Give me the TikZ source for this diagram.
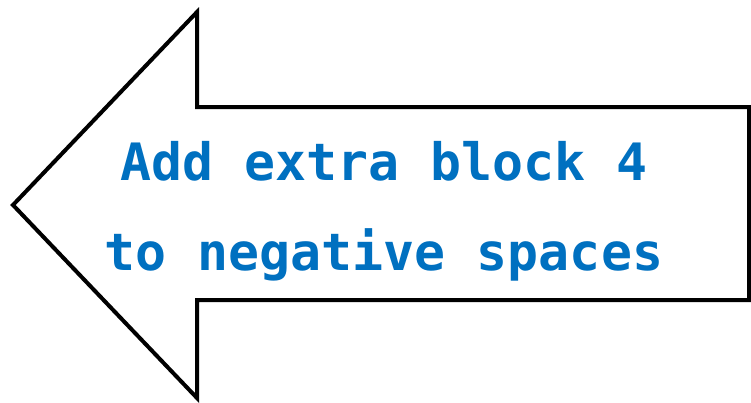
\documentclass[tikz,border=0pt]{standalone}
\usepackage{fontspec}
\setmonofont{DejaVu Sans Mono}
\usepackage{tikz}
\usetikzlibrary{positioning}
\usepackage{xcolor}
\definecolor{LabelBlue}{RGB}{0,112,192}

\begin{document}
\begin{tikzpicture}[x=1pt,y=-1pt]
\useasboundingbox (0,0) rectangle (751,402);
\draw[line width=4pt, line join=miter, fill=white] (13,205) -- (197,12) -- (197,107) -- (749,107) -- (749,300) -- (197,300) -- (197,398) -- cycle;
\node[inner sep=0pt, align=center, text=LabelBlue, font=\ttfamily\bfseries\fontsize{51.5pt}{90pt}\selectfont] (label) at (384,211) {Add extra block 4\\to negative spaces};
\end{tikzpicture}
\end{document}
